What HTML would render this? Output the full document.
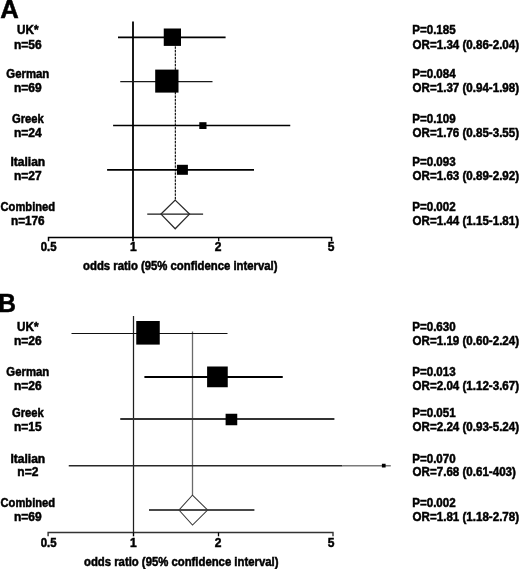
<!DOCTYPE html>
<html><head><meta charset="utf-8"><style>
html,body{margin:0;padding:0;background:#fff;overflow:hidden;}
svg{display:block;will-change:transform;}
text{font-family:"Liberation Sans",sans-serif;font-weight:bold;}
</style></head><body>
<svg width="520" height="569" viewBox="0 0 520 569">
<rect width="520" height="569" fill="#fff"/>
<line x1="133.0" y1="21.5" x2="133.0" y2="237.5" stroke="#000" stroke-width="1.8" />
<line x1="175.4" y1="46" x2="175.4" y2="200.5" stroke="#c8c8c8" stroke-width="1.1" />
<line x1="175.4" y1="46.5" x2="175.4" y2="200.5" stroke="#1c1c1c" stroke-width="1.2" stroke-dasharray="2.2 1.3"/>
<line x1="118" y1="37.4" x2="225.6" y2="37.4" stroke="#000" stroke-width="1.6" />
<rect x="163.75" y="28.5" width="17.25" height="17.40" fill="#000"/>
<line x1="120.25" y1="81.7" x2="212.5" y2="81.7" stroke="#1a1a1a" stroke-width="1.3" />
<rect x="155.2" y="69.6" width="23.30" height="23.00" fill="#000"/>
<line x1="113.1" y1="125.5" x2="290.25" y2="125.5" stroke="#000" stroke-width="1.6" />
<rect x="199.3" y="122.2" width="7.20" height="6.80" fill="#000"/>
<line x1="107.1" y1="169.9" x2="254" y2="169.9" stroke="#000" stroke-width="1.8" />
<rect x="176.9" y="164.8" width="11.00" height="10.00" fill="#000"/>
<line x1="147.25" y1="214.1" x2="203.1" y2="214.1" stroke="#1a1a1a" stroke-width="1.4" />
<polygon points="175.2,200.1 189.5,214.1 175.2,228.8 161.0,214.1" fill="none" stroke="#2a2a2a" stroke-width="1.3"/>
<polyline points="48.5,241.3 48.5,237.5 331.6,237.5 331.6,241.3" fill="none" stroke="#000" stroke-width="1.5"/>
<line x1="218.7" y1="237.5" x2="218.7" y2="241.3" stroke="#000" stroke-width="1.3" />
<line x1="133.0" y1="237.5" x2="133.0" y2="241.3" stroke="#000" stroke-width="1.8" />
<line x1="133.5" y1="316.0" x2="133.5" y2="532.5" stroke="#1e1e1e" stroke-width="1.25" />
<line x1="192.5" y1="331.5" x2="192.5" y2="495.5" stroke="#6a6a6a" stroke-width="1.3" />
<line x1="71.5" y1="333.5" x2="227.5" y2="333.5" stroke="#111" stroke-width="1.2" />
<rect x="136.25" y="321" width="23.50" height="23.60" fill="#000"/>
<line x1="144.4" y1="377.0" x2="282.75" y2="377.0" stroke="#000" stroke-width="1.8" />
<rect x="207.1" y="366.5" width="20.65" height="20.75" fill="#000"/>
<line x1="120.25" y1="419.0" x2="334.4" y2="419.0" stroke="#333" stroke-width="1.8" />
<rect x="225.6" y="413.75" width="11.65" height="11.50" fill="#000"/>
<line x1="68.75" y1="465.7" x2="342.5" y2="465.7" stroke="#282828" stroke-width="1.4" />
<line x1="342.5" y1="465.7" x2="390.8" y2="465.7" stroke="#7a7a7a" stroke-width="1.5" />
<rect x="381.9" y="463.75" width="3.70" height="3.75" fill="#000"/>
<line x1="149" y1="510.0" x2="254.4" y2="510.0" stroke="#0d0d0d" stroke-width="1.6" />
<polygon points="192.4,495.2 207.6,510.0 192.5,525.0 179.0,510.0" fill="none" stroke="#3a3a3a" stroke-width="1.05"/>
<polyline points="48.1,536.3 48.1,532.5 333,532.5 333,536.3" fill="none" stroke="#333" stroke-width="1.4"/>
<line x1="218.5" y1="532.5" x2="218.5" y2="536.3" stroke="#000" stroke-width="1.3" />
<line x1="133.5" y1="532.5" x2="133.5" y2="536.3" stroke="#000" stroke-width="1.4" />
<g fill="#000" stroke="#000" stroke-width="0.5">
<text transform="translate(0.20,17.75) scale(0.980,1)" font-size="26.2" text-anchor="start">A</text>
<text transform="translate(-1.80,311.75) scale(0.980,1)" font-size="25.0" text-anchor="start">B</text>
<text transform="translate(27.80,34.00) scale(0.976,1)" font-size="12" text-anchor="middle">UK*</text>
<text transform="translate(27.80,48.50) scale(1.000,1)" font-size="12" text-anchor="middle">n=56</text>
<text transform="translate(412.23,34.00) scale(0.966,1)" font-size="12" text-anchor="start">P=0.185</text>
<text transform="translate(412.60,48.50) scale(0.966,1)" font-size="12" text-anchor="start">OR=1.34 (0.86-2.04)</text>
<text transform="translate(27.80,77.70) scale(0.950,1)" font-size="12" text-anchor="middle">German</text>
<text transform="translate(27.80,92.00) scale(1.000,1)" font-size="12" text-anchor="middle">n=69</text>
<text transform="translate(412.23,77.70) scale(0.966,1)" font-size="12" text-anchor="start">P=0.084</text>
<text transform="translate(412.60,92.00) scale(0.966,1)" font-size="12" text-anchor="start">OR=1.37 (0.94-1.98)</text>
<text transform="translate(27.80,122.50) scale(0.935,1)" font-size="12" text-anchor="middle">Greek</text>
<text transform="translate(27.80,136.70) scale(1.000,1)" font-size="12" text-anchor="middle">n=24</text>
<text transform="translate(412.23,122.50) scale(0.966,1)" font-size="12" text-anchor="start">P=0.109</text>
<text transform="translate(412.60,136.70) scale(0.966,1)" font-size="12" text-anchor="start">OR=1.76 (0.85-3.55)</text>
<text transform="translate(27.80,166.20) scale(1.000,1)" font-size="12" text-anchor="middle">Italian</text>
<text transform="translate(27.80,180.40) scale(1.000,1)" font-size="12" text-anchor="middle">n=27</text>
<text transform="translate(412.23,166.20) scale(0.966,1)" font-size="12" text-anchor="start">P=0.093</text>
<text transform="translate(412.60,180.40) scale(0.966,1)" font-size="12" text-anchor="start">OR=1.63 (0.89-2.92)</text>
<text transform="translate(27.80,211.20) scale(0.930,1)" font-size="12" text-anchor="middle">Combined</text>
<text transform="translate(27.80,225.40) scale(0.980,1)" font-size="12" text-anchor="middle">n=176</text>
<text transform="translate(412.23,211.20) scale(0.966,1)" font-size="12" text-anchor="start">P=0.002</text>
<text transform="translate(412.60,225.40) scale(0.966,1)" font-size="12" text-anchor="start">OR=1.44 (1.15-1.81)</text>
<text transform="translate(27.80,330.60) scale(0.976,1)" font-size="12" text-anchor="middle">UK*</text>
<text transform="translate(27.80,344.80) scale(1.000,1)" font-size="12" text-anchor="middle">n=26</text>
<text transform="translate(412.23,330.60) scale(0.966,1)" font-size="12" text-anchor="start">P=0.630</text>
<text transform="translate(412.60,344.80) scale(0.966,1)" font-size="12" text-anchor="start">OR=1.19 (0.60-2.24)</text>
<text transform="translate(27.80,375.50) scale(0.950,1)" font-size="12" text-anchor="middle">German</text>
<text transform="translate(27.80,389.50) scale(1.000,1)" font-size="12" text-anchor="middle">n=26</text>
<text transform="translate(412.23,375.50) scale(0.966,1)" font-size="12" text-anchor="start">P=0.013</text>
<text transform="translate(412.60,389.50) scale(0.966,1)" font-size="12" text-anchor="start">OR=2.04 (1.12-3.67)</text>
<text transform="translate(27.80,416.50) scale(0.935,1)" font-size="12" text-anchor="middle">Greek</text>
<text transform="translate(27.80,430.60) scale(1.000,1)" font-size="12" text-anchor="middle">n=15</text>
<text transform="translate(412.23,416.50) scale(0.966,1)" font-size="12" text-anchor="start">P=0.051</text>
<text transform="translate(412.60,430.60) scale(0.966,1)" font-size="12" text-anchor="start">OR=2.24 (0.93-5.24)</text>
<text transform="translate(27.80,462.80) scale(1.000,1)" font-size="12" text-anchor="middle">Italian</text>
<text transform="translate(27.80,476.30) scale(1.000,1)" font-size="12" text-anchor="middle">n=2</text>
<text transform="translate(412.23,462.80) scale(0.966,1)" font-size="12" text-anchor="start">P=0.070</text>
<text transform="translate(412.60,476.30) scale(0.966,1)" font-size="12" text-anchor="start">OR=7.68 (0.61-403)</text>
<text transform="translate(27.80,507.30) scale(0.930,1)" font-size="12" text-anchor="middle">Combined</text>
<text transform="translate(27.80,521.30) scale(1.000,1)" font-size="12" text-anchor="middle">n=69</text>
<text transform="translate(412.23,507.30) scale(0.966,1)" font-size="12" text-anchor="start">P=0.002</text>
<text transform="translate(412.60,521.30) scale(0.966,1)" font-size="12" text-anchor="start">OR=1.81 (1.18-2.78)</text>
<text transform="translate(48.60,251.30) scale(0.950,1)" font-size="12" text-anchor="middle">0.5</text>
<text transform="translate(133.40,251.30) scale(1.000,1)" font-size="12" text-anchor="middle">1</text>
<text transform="translate(218.10,251.30) scale(1.000,1)" font-size="12" text-anchor="middle">2</text>
<text transform="translate(331.20,251.30) scale(1.000,1)" font-size="12" text-anchor="middle">5</text>
<text transform="translate(83.10,270.30) scale(0.945,1)" font-size="12" text-anchor="start">odds ratio (95% confidence interval)</text>
<text transform="translate(48.60,546.70) scale(0.950,1)" font-size="12" text-anchor="middle">0.5</text>
<text transform="translate(133.40,546.70) scale(1.000,1)" font-size="12" text-anchor="middle">1</text>
<text transform="translate(218.10,546.70) scale(1.000,1)" font-size="12" text-anchor="middle">2</text>
<text transform="translate(331.20,546.70) scale(1.000,1)" font-size="12" text-anchor="middle">5</text>
<text transform="translate(84.00,566.40) scale(0.945,1)" font-size="12" text-anchor="start">odds ratio (95% confidence interval)</text>
</g>
</svg>
</body></html>
